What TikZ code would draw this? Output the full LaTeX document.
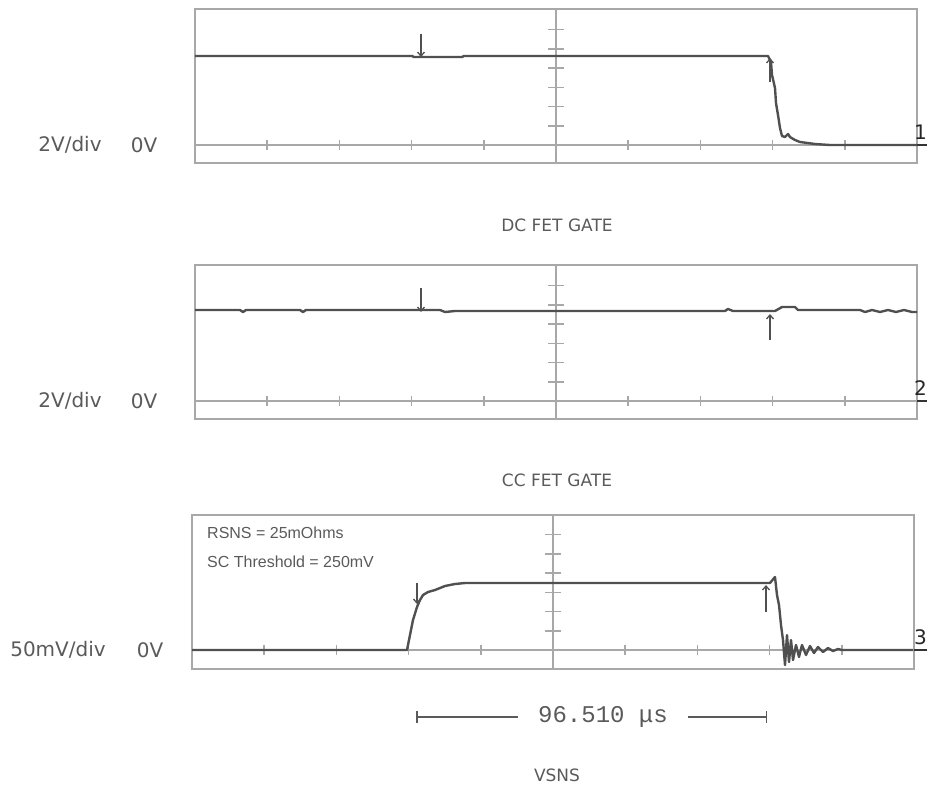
\documentclass[tikz,border=0pt]{standalone}
\usepackage{fontspec}
\setmainfont{DejaVu Sans}
\newfontfamily\labfont{DejaVu Sans}
\newfontfamily\notefont{Liberation Sans}
\newfontfamily\timefont{Liberation Mono}
\usetikzlibrary{arrows.meta, positioning}
\definecolor{gridgray}{HTML}{A8A8A8}
\definecolor{tracegray}{HTML}{505050}
\definecolor{textgray}{HTML}{5A5A5A}
\tikzset{
    %marker arrow tip
    >={Straight Barb[length=4pt,width=7pt]},
}

\begin{document}
\begin{tikzpicture}[x=1pt,y=-1pt]
    \tikzset{
      grid/.style={draw=gridgray, line width=1.5pt},
      trace/.style={draw=tracegray, line width=2.4pt, line join=round},
      marker/.style={draw=tracegray, line width=1.3pt, ->},
      side/.style={text=textgray, font=\labfont\fontsize{20}{24}\selectfont, inner sep=0pt},
      title/.style={text=textgray, font=\labfont\fontsize{17}{20}\selectfont, inner sep=0pt},
      note/.style={text=textgray, font=\notefont\fontsize{16}{19}\selectfont, inner sep=0pt, anchor=west},
      chan/.style={text=black!85, font=\labfont\fontsize{20}{22}\selectfont, inner sep=0pt, anchor=base west}
    }
    \useasboundingbox (0,0) rectangle (927,788);

    % screen frames, ticks and channel numbers
    \foreach \t/\b/\l/\n in {9/145/195/1, 265/401/195/2, 515/650/192/3} {
        \draw[grid] (\l,\t) rectangle ++(722,154);
        \draw[grid] (\l,\b) -- ++(722,0);
        \draw[grid] (\l+361,\t) -- ++(0,154);
        \foreach \k in {1,2,3,4,6,7,8,9}
            \draw[grid] (\l+72.2*\k,\b-5) -- ++(0,10);
        \foreach \k in {1,...,6}
            \draw[grid] (\l+353,\b-19.25*\k) -- ++(16,0);
        \coordinate (end\n) at (\l+722,\b);
        \draw[draw=black!80, line width=1.5pt] (end\n) -- (927,\b);
        \node[chan] (ch\n) at (914,\b-6) {\n};
    }

    % scale labels
    \node[side] (div1) at (70,145) {2V/div};
    \node[side] (zero1) at (144,145) {0V};
    \node[side] (div2) at (70,401) {2V/div};
    \node[side] (zero2) at (144,401) {0V};
    \node[side] (div3) at (58,650) {50mV/div};
    \node[side] (zero3) at (150,650) {0V};

    % titles
    \node[title] (dcgate) at (557,225) {DC FET GATE};
    \node[title] (ccgate) at (557,480) {CC FET GATE};
    \node[title] (vsns) at (557,775) {VSNS};

    \node[note] (rsns) at (207,533) {RSNS = 25mOhms};
    \node[note] (thresh) at (207,562) {SC Threshold = 250mV};

    % channel 1
    \draw[trace] (195,56) -- (413,56) -- (413,57) -- (463,57) -- (463,56) -- (768,56)
        -- (771,62) -- (772,75) -- (775,88) -- (776,103) -- (778,115) -- (780,128)
        -- (782,136) -- (785,137) -- (788,134) -- (790,137) -- (795,140) -- (800,142)
        -- (815,144) -- (830,145) -- (917,145);
    \draw[marker] (421,34) -- (421,57);
    \draw[marker] (770,82) -- (770,58);

    % channel 2
    \draw[trace] (195,310) -- (240,310) -- (243,312) -- (246,310) -- (300,310) -- (303,312)
        -- (306,310) -- (440,310) -- (445,312) -- (455,311) -- (725,311) -- (728,309)
        -- (733,311) -- (775,311) -- (782,307) -- (795,307) -- (798,310) -- (860,310)
        -- (865,312) -- (872,310) -- (880,312) -- (888,310) -- (896,312) -- (904,310)
        -- (912,312) -- (917,312);
    \draw[marker] (421,288) -- (421,312);
    \draw[marker] (770,340) -- (770,314);

    % channel 3
    \draw[trace] (192,650) -- (407,650) -- (410,635) -- (413,620) -- (417,607) -- (420,600)
        -- (423,595) -- (428,592) -- (435,590) -- (445,586) -- (455,584) -- (465,583)
        -- (770,583) -- (775,577) -- (777,595) -- (779,605) -- (781,625) -- (783,640)
        -- (785,665) -- (787,635) -- (789,662) -- (791,640) -- (793,660) -- (796,645)
        -- (799,657) -- (802,645) -- (806,655) -- (810,646) -- (814,653) -- (818,647)
        -- (823,652) -- (828,648) -- (833,651) -- (838,649) -- (842,650) -- (913,650);
    \draw[marker] (417,583) -- (417,604);
    \draw[marker] (766,612) -- (766,585);

    % time measurement
    \node[text=textgray, font=\timefont\fontsize{24}{26}\selectfont, inner xsep=20pt, inner ysep=0pt]
        (time) at (603,717) {96.510 μs};
    \coordinate (tl) at (416,717);
    \coordinate (tr) at (767,717);
    \draw[draw=textgray, line width=1.5pt, {Bar[width=12pt]}-] (tl) -- (time.west);
    \draw[draw=textgray, line width=1.5pt, -{Bar[width=12pt]}] (time.east) -- (tr);
\end{tikzpicture}
\end{document}
